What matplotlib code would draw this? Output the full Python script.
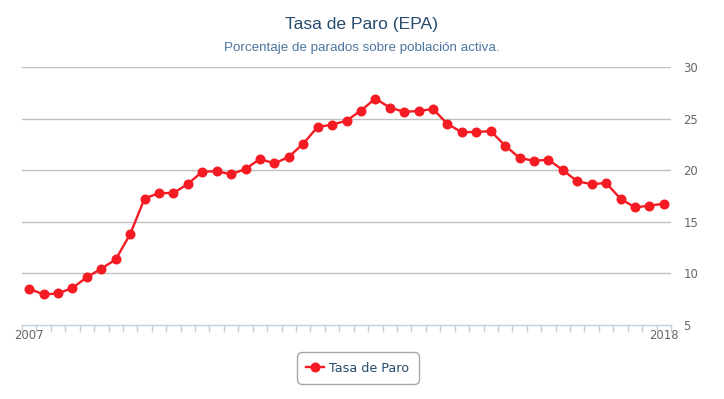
import numpy as np
import matplotlib.pyplot as plt
from matplotlib.ticker import FixedLocator, NullFormatter

# quarterly unemployment rate (EPA), 2007T1 .. 2018T1
tasa = [8.49, 7.93, 8.03, 8.57,
        9.60, 10.44, 11.33, 13.79,
        17.24, 17.77, 17.77, 18.66,
        19.84, 19.89, 19.59, 20.11,
        21.08, 20.64, 21.28, 22.56,
        24.19, 24.40, 24.79, 25.77,
        26.94, 26.06, 25.65, 25.73,
        25.93, 24.47, 23.67, 23.70,
        23.78, 22.37, 21.18, 20.90,
        21.00, 20.00, 18.91, 18.63,
        18.75, 17.22, 16.38, 16.55,
        16.74]
year_labels = {0: "2007", 44: "2018"}
y_ticks = [5, 10, 15, 20, 25, 30]


def plot_chart():
    fig = plt.figure(figsize=(7.24, 3.99), dpi=100)
    ax = fig.add_axes([22 / 724, 74.3 / 399, 649 / 724, 257.7 / 399])

    x = np.arange(len(tasa))
    ax.plot(x, tasa, color="#f41c22", lw=1.7, marker="o", ms=7.2,
            markeredgewidth=0, label="Tasa de Paro", zorder=3)

    ax.set_xlim(-0.5, len(tasa) - 0.5)
    ax.set_ylim(5, 30)

    # grid + axis lines
    for y in y_ticks[1:]:
        ax.axhline(y, color="#c0c0c0", lw=1, zorder=1)
    for side in ["top", "left", "right"]:
        ax.spines[side].set_visible(False)
    ax.spines["bottom"].set_color("#c0d0e0")
    ax.spines["bottom"].set_linewidth(1)

    # y labels on the right
    ax.yaxis.tick_right()
    ax.set_yticks(y_ticks)
    ax.tick_params(axis="y", length=0, pad=9, labelsize=8.4, labelcolor="#666666")
    for lab in ax.get_yticklabels():
        lab.set_horizontalalignment("left")

    # x ticks at category edges, labels only at ends
    ax.xaxis.set_minor_locator(FixedLocator(np.arange(-0.5, len(tasa), 1)))
    ax.xaxis.set_minor_formatter(NullFormatter())
    ax.tick_params(axis="x", which="minor", length=5, color="#c0d0e0", width=1)
    ax.set_xticks(list(year_labels.keys()))
    ax.set_xticklabels(list(year_labels.values()))
    ax.tick_params(axis="x", which="major", length=0, pad=3, labelsize=8.4,
                   labelcolor="#666666")

    fig.text(0.5, 1 - 24 / 399, "Tasa de Paro (EPA)", ha="center", va="center",
             fontsize=12.6, color="#274b6d", family="Liberation Sans")
    fig.text(0.5, 1 - 48 / 399, "Porcentaje de parados sobre población activa.",
             ha="center", va="center", fontsize=9.6, color="#4d759e",
             family="Liberation Sans")

    leg = fig.legend(loc="center", bbox_to_anchor=(358 / 724, 1 - 368 / 399),
                     frameon=True, fancybox=True, fontsize=9.2, handlelength=1.4,
                     handletextpad=0.4, borderpad=0.75, labelcolor="#274b6d")
    leg.get_frame().set_edgecolor("#909090")
    leg.get_frame().set_linewidth(1)
    leg.get_frame().set_boxstyle("round,pad=0,rounding_size=0.4")

    plt.savefig("out.png", dpi=100)
    plt.clf()


if __name__ == "__main__":
    plot_chart()
